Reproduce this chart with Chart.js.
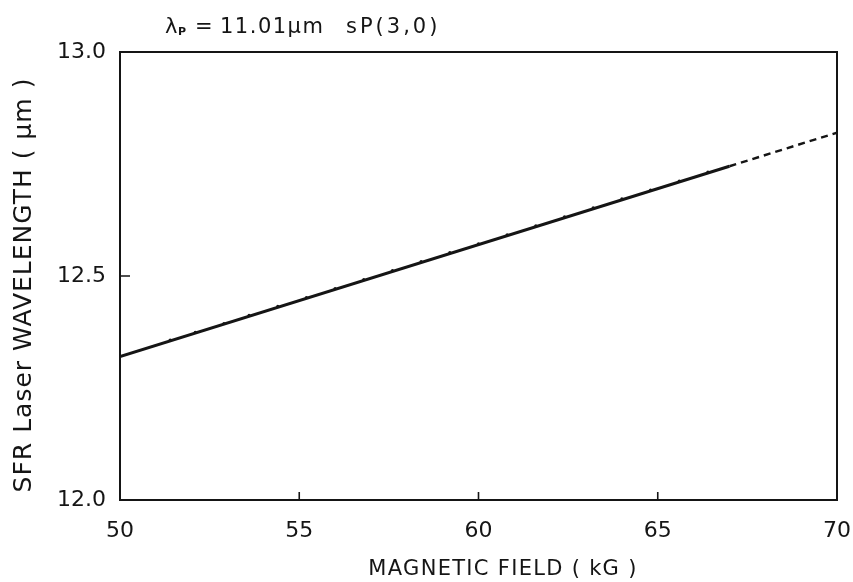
<!DOCTYPE html>
<html>
<head>
<meta charset="utf-8">
<script src="https://cdn.jsdelivr.net/npm/chart.js@4.4.1/dist/chart.umd.min.js"></script>
<style>
    html, body { margin: 0; padding: 0; background: #ffffff; }
    #wrap { width: 853px; height: 582px; }
</style>
</head>
<body>
<div id="wrap"><canvas id="sfrChart" width="853" height="582"></canvas></div>
<script>
// Datos
const fieldSolid = [50, 67];
const wavelengthSolid = [12.32, 12.745];
const fieldDashed = [67, 70];
const wavelengthDashed = [12.745, 12.82];

// Puntos medidos sobre la recta
const fieldPoints = [51.4, 52.1, 52.9, 53.6, 54.4, 55.2, 56.0, 56.8, 57.6, 58.4,
                     59.2, 60.0, 60.8, 61.6, 62.4, 63.2, 64.0, 64.8, 65.6, 66.4];
const wavelengthPoints = [12.357, 12.374, 12.394, 12.412, 12.432, 12.452, 12.472, 12.492, 12.512, 12.532,
                          12.552, 12.572, 12.592, 12.612, 12.632, 12.652, 12.672, 12.692, 12.712, 12.732];

const xTicks = [50, 55, 60, 65, 70];
const yTicks = [12.0, 12.5, 13.0];

const ink = '#151515';
const fontFamily = '"DejaVu Sans", sans-serif';

function toXY(xs, ys) {
    return xs.map((x, i) => ({ x: x, y: ys[i] }));
}

// Marco, marcas interiores y textos
const framePlugin = {
    id: 'frame',
    afterDraw(chart) {
        const ctx = chart.ctx;
        const a = chart.chartArea;
        const xs = chart.scales.x;
        const ys = chart.scales.y;
        ctx.save();
        ctx.strokeStyle = ink;
        ctx.lineWidth = 2;
        ctx.strokeRect(a.left, a.top, a.right - a.left, a.bottom - a.top);

        ctx.lineWidth = 1.6;
        ctx.beginPath();
        xTicks.slice(1, -1).forEach(v => {
            const px = xs.getPixelForValue(v);
            ctx.moveTo(px, a.bottom);
            ctx.lineTo(px, a.bottom - 8);
        });
        yTicks.slice(1, -1).forEach(v => {
            const py = ys.getPixelForValue(v);
            ctx.moveTo(a.left, py);
            ctx.lineTo(a.left + 10, py);
        });
        ctx.stroke();

        ctx.fillStyle = ink;
        ctx.textBaseline = 'alphabetic';
        ctx.textAlign = 'left';

        // Titulo
        ctx.font = '21px ' + fontFamily;
        ctx.letterSpacing = '0px';
        ctx.fillText('λ', 165, 33);
        ctx.font = 'bold 11px ' + fontFamily;
        ctx.fillText('P', 178, 35);
        ctx.font = '21px ' + fontFamily;
        ctx.fillText('=', 195, 33);
        ctx.letterSpacing = '1.5px';
        ctx.fillText('11.01μm', 220, 33);
        ctx.letterSpacing = '3px';
        ctx.fillText('sP(3,0)', 346, 33);

        // Titulo eje X
        ctx.font = '21px ' + fontFamily;
        ctx.letterSpacing = '1.3px';
        ctx.textAlign = 'center';
        ctx.fillText('MAGNETIC FIELD ( kG )', 503, 575);

        // Titulo eje Y
        ctx.save();
        ctx.translate(31, 285);
        ctx.rotate(-Math.PI / 2);
        ctx.font = '25px ' + fontFamily;
        ctx.letterSpacing = '1px';
        ctx.fillText('SFR Laser WAVELENGTH ( μm )', 0, 0);
        ctx.restore();

        ctx.restore();
    }
};

new Chart(document.getElementById('sfrChart').getContext('2d'), {
    type: 'scatter',
    data: {
        datasets: [{
            data: toXY(fieldSolid, wavelengthSolid),
            showLine: true,
            borderColor: ink,
            borderWidth: 3,
            pointRadius: 0
        }, {
            data: toXY(fieldDashed, wavelengthDashed),
            showLine: true,
            borderColor: ink,
            borderWidth: 2.4,
            borderDash: [7, 5],
            pointRadius: 0
        }, {
            data: toXY(fieldPoints, wavelengthPoints),
            showLine: false,
            pointRadius: 1.6,
            pointBackgroundColor: ink,
            pointBorderWidth: 0
        }]
    },
    options: {
        responsive: false,
        animation: false,
        events: [],
        layout: { padding: { top: 52, right: 16, left: 0, bottom: 0 } },
        plugins: {
            legend: { display: false },
            tooltip: { enabled: false }
        },
        scales: {
            x: {
                type: 'linear',
                min: 50,
                max: 70,
                afterFit(scale) {
                    scale.height = 82;
                    scale.paddingLeft = 0;
                    scale.paddingRight = 0;
                },
                afterBuildTicks(scale) { scale.ticks = xTicks.map(v => ({ value: v })); },
                grid: { display: false, drawTicks: false },
                border: { display: false },
                ticks: {
                    padding: 18,
                    color: ink,
                    font: { family: fontFamily, size: 22 },
                    callback: v => v.toFixed(0)
                }
            },
            y: {
                type: 'linear',
                min: 12.0,
                max: 13.0,
                afterFit(scale) {
                    scale.width = 120;
                    scale.paddingTop = 0;
                    scale.paddingBottom = 0;
                },
                afterBuildTicks(scale) { scale.ticks = yTicks.map(v => ({ value: v })); },
                grid: { display: false, drawTicks: false },
                border: { display: false },
                ticks: {
                    padding: 14,
                    color: ink,
                    font: { family: fontFamily, size: 22 },
                    callback: v => v.toFixed(1)
                }
            }
        }
    },
    plugins: [framePlugin]
});
</script>
</body>
</html>
